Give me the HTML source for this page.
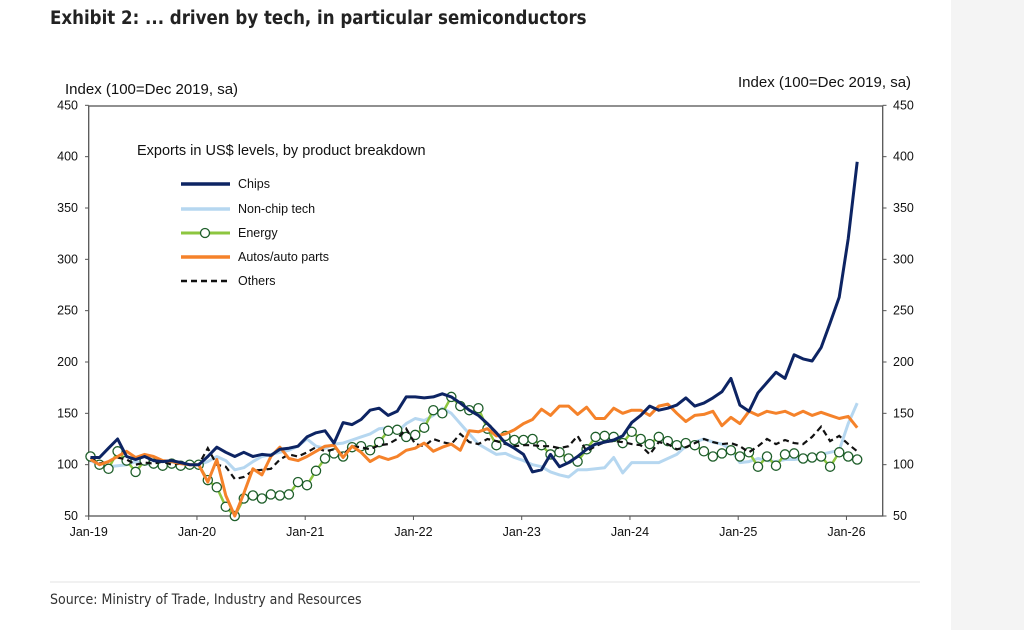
<!DOCTYPE html>
<html><head><meta charset="utf-8"><style>
body{margin:0;width:1024px;height:630px;background:#fff;overflow:hidden;font-family:"Liberation Sans",sans-serif;position:relative}
#side{position:absolute;left:951px;top:0;width:73px;height:630px;background:#f4f4f4}
</style></head><body>
<div id="side"></div>
<svg id="c" width="1024" height="630" style="position:absolute;left:0;top:0" font-family="Liberation Sans, sans-serif">
<text x="50" y="24" font-size="18.5" font-weight="bold" fill="#222" font-family="DejaVu Sans Condensed, Liberation Sans, sans-serif" style="font-stretch:condensed">Exhibit 2: ... driven by tech, in particular semiconductors</text>
<text x="65" y="94" font-size="15" fill="#111">Index (100=Dec 2019, sa)</text>
<text x="738" y="87" font-size="15" fill="#111">Index (100=Dec 2019, sa)</text>
<rect x="88.7" y="106" width="794" height="410" fill="none" stroke="#555" stroke-width="1.3"/>
<g id="ax" font-size="12.5" fill="#111"></g>
<g id="series"></g>
<text x="137" y="155" font-size="14.5" fill="#111">Exports in US$ levels, by product breakdown</text>
<g font-size="12.5" fill="#111">
<line x1="181" y1="184" x2="230" y2="184" stroke="#0d2463" stroke-width="3.5"/><text x="238" y="188">Chips</text>
<line x1="181" y1="209" x2="230" y2="209" stroke="#b6d7f0" stroke-width="3.5"/><text x="238" y="213">Non-chip tech</text>
<line x1="181" y1="233" x2="230" y2="233" stroke="#8dc63f" stroke-width="3"/><circle cx="205" cy="233" r="4.5" fill="#fff" stroke="#1e5e2a" stroke-width="1.3"/><text x="238" y="237">Energy</text>
<line x1="181" y1="257" x2="230" y2="257" stroke="#f5822a" stroke-width="3.5"/><text x="238" y="261">Autos/auto parts</text>
<line x1="181" y1="281" x2="230" y2="281" stroke="#111" stroke-width="2.5" stroke-dasharray="6,4"/><text x="238" y="285">Others</text>
</g>
<line x1="50" y1="582" x2="920" y2="582" stroke="#e3e3e3" stroke-width="1"/>
<text x="50" y="604" font-size="14" fill="#333" font-family="DejaVu Sans Condensed, Liberation Sans, sans-serif">Source: Ministry of Trade, Industry and Resources</text>
</svg>
<script>
function X(m){return 90.5+9.02*m}
function Y(v){return 516-(v-50)*1.0267}
var ax=document.getElementById('ax'),s='';
for(var v=50;v<=450;v+=50){var y=Y(v);
s+='<line x1="85" y1="'+y+'" x2="88.7" y2="'+y+'" stroke="#555"/><line x1="882.7" y1="'+y+'" x2="886.5" y2="'+y+'" stroke="#555"/>';
s+='<text x="78" y="'+(y+4)+'" text-anchor="end">'+v+'</text><text x="893" y="'+(y+4)+'">'+v+'</text>';}
var labs=['Jan-19','Jan-20','Jan-21','Jan-22','Jan-23','Jan-24','Jan-25','Jan-26'];
for(var i=0;i<8;i++){var x=88.7+108.25*i;s+='<line x1="'+x+'" y1="516" x2="'+x+'" y2="520" stroke="#555"/><text x="'+x+'" y="536" text-anchor="middle">'+labs[i]+'</text>';}
ax.innerHTML=s;
var chips=[107,107,116,125,108,105,108,104,103,104,102,100,100,108,117,112,108,112,108,110,109,115,116,118,127,131,133,121,141,139,144,153,155,148,152,166,166,165,166,169,166,160,153,148,140,131,121,116,110,93,95,110,98,102,108,115,120,122,124,128,141,148,157,153,155,158,165,157,160,165,171,184,158,152,170,180,190,184,207,203,201,214,238,263,320,395];
var nct=[104,100,98,99,100,103,101,100,103,102,100,100,100,103,108,104,95,97,103,108,110,112,114,118,125,118,116,120,121,124,127,130,135,136,132,140,145,143,148,155,150,140,130,120,115,110,111,107,104,100,98,93,90,88,95,95,96,97,107,92,102,102,102,102,106,110,118,122,125,122,120,115,102,103,106,104,103,105,105,106,108,110,112,114,135,145,160];
nct=nct.slice(0,86);nct[85]=160;nct[84]=140;
var en=[108,100,96,113,104,93,104,101,99,101,99,100,100,85,78,59,50,67,70,67,71,70,71,83,80,94,106,111,108,117,118,114,122,133,134,127,129,136,153,150,166,157,153,155,135,119,128,124,124,125,119,110,112,106,103,115,127,128,127,121,132,125,120,127,123,119,121,119,113,108,111,114,108,112,98,108,99,110,111,106,107,108,98,112,108,105];
var au=[105,100,103,108,113,107,110,108,104,103,101,100,100,83,105,70,50,72,96,90,108,117,106,104,108,113,118,119,107,118,112,103,108,105,108,114,116,121,113,117,120,114,133,132,135,128,130,134,140,144,154,148,157,157,149,156,145,145,155,150,153,153,148,157,159,150,142,148,149,152,138,146,140,152,148,152,150,152,148,152,148,151,148,145,147,136];
var ot=[107,101,103,107,105,100,102,101,103,100,101,100,100,116,100,98,86,88,94,95,96,105,110,108,112,117,113,115,110,118,117,115,119,120,125,135,120,118,125,122,120,130,122,120,125,123,120,118,119,119,118,118,116,118,128,113,118,122,123,122,120,119,110,122,120,115,117,121,125,122,120,121,118,112,118,125,120,124,121,120,127,137,123,128,120,113];
function pts(a){return a.map(function(v,i){return X(i).toFixed(1)+','+Y(v).toFixed(1)}).join(' ')}
var g='';
g+='<polyline points="'+pts(nct)+'" fill="none" stroke="#b6d7f0" stroke-width="3" stroke-linejoin="round"/>';
g+='<polyline points="'+pts(en)+'" fill="none" stroke="#8dc63f" stroke-width="2.5" stroke-linejoin="round"/>';
en.forEach(function(v,i){g+='<circle cx="'+X(i).toFixed(1)+'" cy="'+Y(v).toFixed(1)+'" r="4.6" fill="#fff" stroke="#1e5e2a" stroke-width="1.3"/>';});
g+='<polyline points="'+pts(ot)+'" fill="none" stroke="#111" stroke-width="2.2" stroke-dasharray="6,4"/>';
g+='<polyline points="'+pts(au)+'" fill="none" stroke="#f5822a" stroke-width="3" stroke-linejoin="round"/>';
g+='<polyline points="'+pts(chips)+'" fill="none" stroke="#0d2463" stroke-width="3" stroke-linejoin="round"/>';
document.getElementById('series').innerHTML=g;
</script>
</body></html>
